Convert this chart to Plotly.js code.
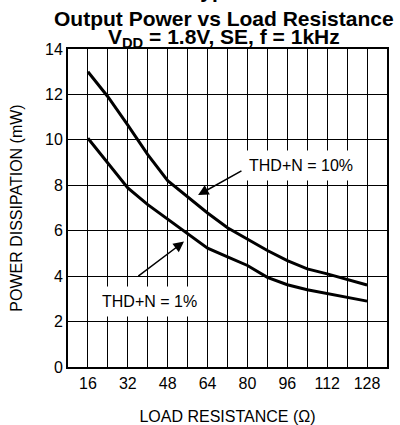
<!DOCTYPE html>
<html>
<head>
<meta charset="utf-8">
<script src="https://cdn.plot.ly/plotly-3.0.1.min.js"></script>
<style>
  html, body { margin: 0; padding: 0; background: #fff; }
  #chart { width: 400px; height: 425px; }
</style>
</head>
<body>
<div id="chart"></div>
<script>
// Load resistance (ohms)
const loadResistance = [16, 24, 32, 40, 48, 56, 64, 72, 80, 88, 96, 104, 112, 120, 128];
// Output power (mW) at THD+N = 10%
const power10 = [13.0, 11.9, 10.65, 9.35, 8.2, 7.5, 6.78, 6.13, 5.63, 5.13, 4.68, 4.32, 4.1, 3.86, 3.61];
// Output power (mW) at THD+N = 1%
const power1 = [10.07, 8.99, 7.88, 7.15, 6.5, 5.84, 5.23, 4.85, 4.47, 3.95, 3.62, 3.4, 3.23, 3.06, 2.9];
// Tick labels
const xTickVals = [16, 32, 48, 64, 80, 96, 112, 128];
const xTickText = ['16', '32', '48', '64', '80', '96', '112', '128'];
const yTickVals = [0, 2, 4, 6, 8, 10, 12, 14];
// Vertical grid lines every 8 ohms between labelled ticks
const xGridVals = [16, 24, 32, 40, 48, 56, 64, 72, 80, 88, 96, 104, 112, 120, 128];

const FONT = 'Liberation Sans, Arial, Helvetica, sans-serif';

const xGridText = xGridVals.map(v => {
  const i = xTickVals.indexOf(v);
  return i >= 0 ? xTickText[i] : '';
});

const traces = [
  {
    x: loadResistance, y: power10, mode: 'lines', name: 'THD+N = 10%',
    line: { color: '#000', width: 3 }, hoverinfo: 'skip'
  },
  {
    x: loadResistance, y: power1, mode: 'lines', name: 'THD+N = 1%',
    line: { color: '#000', width: 3 }, hoverinfo: 'skip'
  }
];

const layout = {
  width: 400, height: 425,
  margin: { l: 68, r: 13, t: 49, b: 58 },
  paper_bgcolor: '#fff', plot_bgcolor: '#fff',
  showlegend: false,
  font: { family: FONT, color: '#000', size: 16 },
  xaxis: {
    range: [8, 136],
    tickmode: 'array', tickvals: xGridVals, ticktext: xGridText,
    ticks: '', ticklabelstandoff: 1,
    showgrid: true, gridcolor: '#000', gridwidth: 1,
    showline: true, linecolor: '#000', linewidth: 2, mirror: true,
    zeroline: false,
    tickfont: { size: 16, family: FONT, color: '#000' },
    title: { text: 'LOAD RESISTANCE (Ω)', font: { size: 16, family: FONT, color: '#000' }, standoff: 20 }
  },
  yaxis: {
    range: [0, 14],
    tickvals: yTickVals,
    ticks: '', ticklabelstandoff: 0,
    showgrid: true, gridcolor: '#000', gridwidth: 1,
    showline: true, linecolor: '#000', linewidth: 2, mirror: true,
    zeroline: false,
    tickfont: { size: 16, family: FONT, color: '#000' },
    title: { text: 'POWER DISSIPATION (mW)', font: { size: 16, family: FONT, color: '#000' }, standoff: 18 }
  },
  annotations: [
    // Title lines
    { xref: 'paper', yref: 'paper', x: 0.49, y: 1, yanchor: 'middle', yshift: 59, showarrow: false,
      text: '<b>Typical</b>', font: { size: 21, family: FONT, color: '#000' } },
    { xref: 'paper', yref: 'paper', x: 0.49, y: 1, yanchor: 'middle', yshift: 31, showarrow: false,
      text: '<b>Output Power vs Load Resistance</b>', font: { size: 21, family: FONT, color: '#000' } },
    { xref: 'paper', yref: 'paper', x: 0.49, y: 1, yanchor: 'middle', yshift: 11, showarrow: false,
      text: '<b>V<sub>DD</sub> = 1.8V, SE, f = 1kHz</b>', font: { size: 21, family: FONT, color: '#000' } },
    // Curve labels (white boxes)
    { x: 101.5, y: 8.85, xref: 'x', yref: 'y', showarrow: false, text: 'THD+N = 10%',
      bgcolor: '#fff', borderpad: 6, font: { size: 16, family: FONT, color: '#000' } },
    { x: 40.5, y: 2.87, xref: 'x', yref: 'y', showarrow: false, text: 'THD+N = 1%',
      bgcolor: '#fff', borderpad: 6, font: { size: 16, family: FONT, color: '#000' } },
    // Arrows
    { x: 60.2, y: 7.57, ax: 78.2, ay: 8.67, xref: 'x', yref: 'y', axref: 'x', ayref: 'y',
      text: '', showarrow: true, arrowhead: 2, arrowsize: 1.4, arrowwidth: 1.5, arrowcolor: '#000' },
    { x: 54.55, y: 5.52, ax: 35.6, ay: 3.95, xref: 'x', yref: 'y', axref: 'x', ayref: 'y',
      text: '', showarrow: true, arrowhead: 2, arrowsize: 1.4, arrowwidth: 1.5, arrowcolor: '#000' }
  ]
};

Plotly.newPlot('chart', traces, layout, { staticPlot: true, displayModeBar: false });
</script>
</body>
</html>
